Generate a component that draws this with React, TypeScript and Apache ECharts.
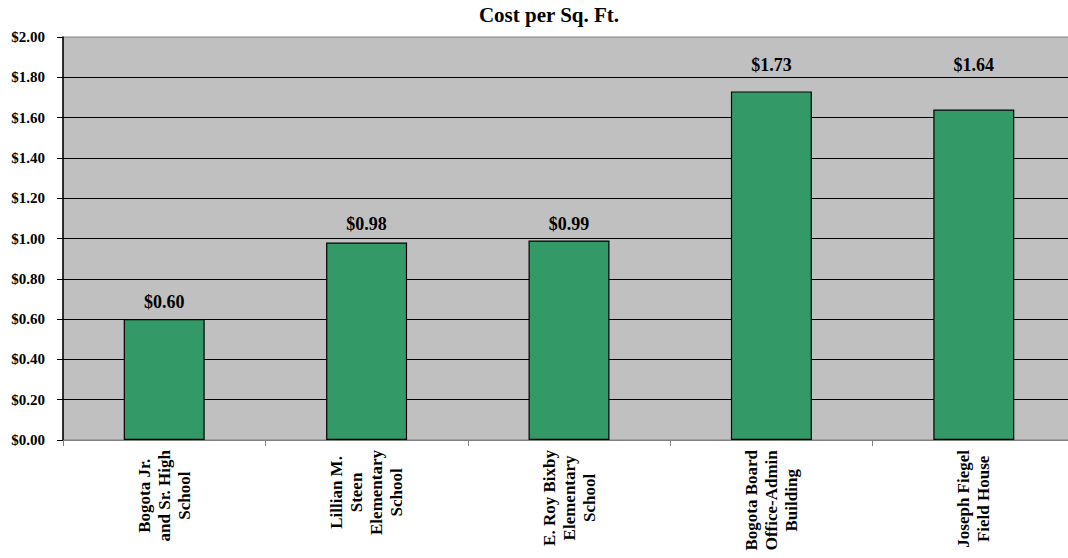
import React, { useEffect, useRef } from "react";
import * as echarts from "echarts";

const titleText = "Cost per Sq. Ft.";
const categories = [
  "Bogota Jr.\nand Sr. High\nSchool",
  "Lillian M.\nSteen\nElementary\nSchool",
  "E. Roy Bixby\nElementary\nSchool",
  "Bogota Board\nOffice-Admin\nBuilding",
  "Joseph Fiegel\nField House",
];
const costPerSqFt = [0.6, 0.98, 0.99, 1.73, 1.64];
const yMin = 0;
const yMax = 2;
const yStep = 0.2;

// style only: gap (px) between each bar top and its value label, as placed in the source
const labelGap = [8, 10, 8, 17, 36];

const FONT = "'Liberation Serif', 'Times New Roman', serif";

export default function App() {
  const ref = useRef<HTMLDivElement>(null);
  useEffect(() => {
    if (!ref.current) return;
    const chart = echarts.init(ref.current, undefined, { renderer: "svg" });
    chart.setOption({
      animation: false,
      backgroundColor: "#ffffff",
      title: {
        text: titleText,
        left: 549,
        top: 4,
        padding: 0,
        textAlign: "center",
        textStyle: { fontFamily: FONT, fontWeight: "bold", fontSize: 21, color: "#000" },
      },
      grid: {
        left: 63,
        top: 37,
        width: 1012,
        height: 403,
        outerBoundsMode: "none",
        containLabel: false,
        show: true,
        backgroundColor: "#c0c0c0",
        borderColor: "#808080",
        borderWidth: 1,
      },
      xAxis: {
        type: "category",
        data: categories,
        axisLine: { show: true, lineStyle: { color: "#808080", width: 1 } },
        axisTick: { show: true, alignWithLabel: false, length: 6, lineStyle: { color: "#808080" } },
        axisLabel: {
          rotate: 90,
          margin: 10,
          interval: 0,
          formatter: (v: string) => v.split("\n").map((l) => "{c|" + l + "}").join("\n"),
          rich: {
            c: {
              align: "center",
              fontFamily: FONT,
              fontWeight: "bold",
              fontSize: 17,
              lineHeight: 20,
              color: "#000",
            },
          },
        },
        splitLine: { show: false },
      },
      yAxis: {
        type: "value",
        min: yMin,
        max: yMax,
        interval: yStep,
        axisLine: { show: true, lineStyle: { color: "#000", width: 1.5 } },
        axisTick: { show: true, length: 6, lineStyle: { color: "#000" } },
        axisLabel: {
          margin: 18,
          fontFamily: FONT,
          fontWeight: "bold",
          fontSize: 15,
          color: "#000",
          formatter: (v: number) => "$" + v.toFixed(2),
        },
        splitLine: {
          show: true,
          showMinLine: false,
          showMaxLine: false,
          lineStyle: { color: "#000", width: 1.2 },
        },
      },
      series: [
        {
          type: "bar",
          data: costPerSqFt.map((v, i) => ({ value: v, label: { distance: labelGap[i] } })),
          barWidth: "40%",
          itemStyle: { color: "#339966", borderColor: "#000", borderWidth: 1.2 },
          label: {
            show: true,
            position: "top",
            distance: 8,
            fontFamily: FONT,
            fontWeight: "bold",
            fontSize: 18,
            color: "#000",
            formatter: (p: any) => "$" + Number(p.value).toFixed(2),
          },
        },
      ],
    });
    return () => chart.dispose();
  }, []);
  return (
    <div
      ref={ref}
      style={{ position: "fixed", left: 0, top: 0, width: 1068, height: 558 }}
    />
  );
}
